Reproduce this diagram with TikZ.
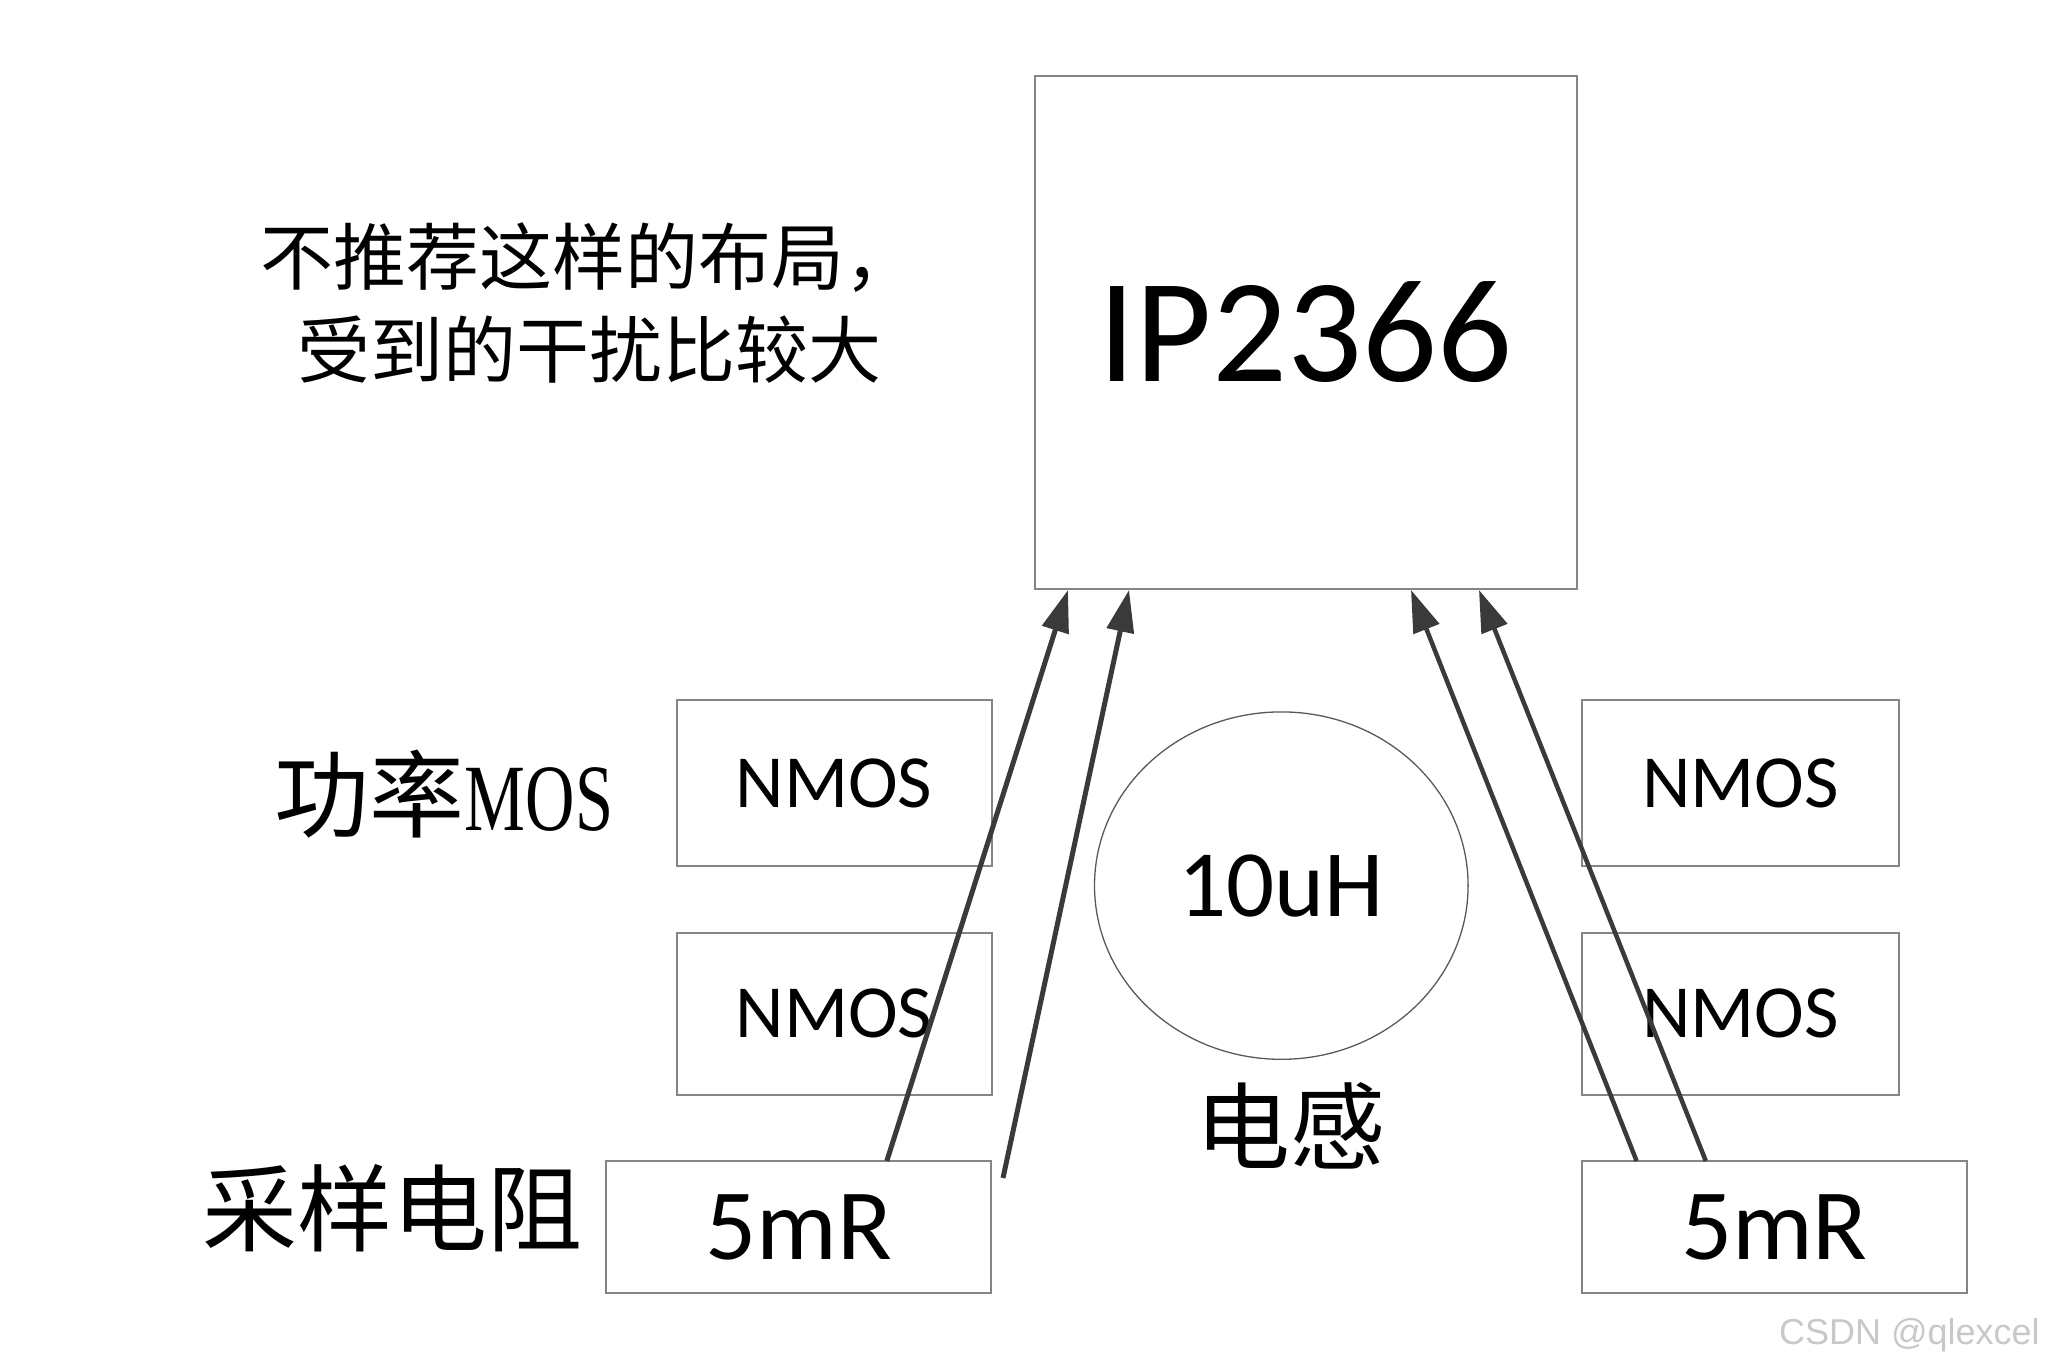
\documentclass[tikz,border=0pt]{standalone}
\usepackage{fontspec}
\setmainfont{Carlito}
\newfontfamily\cjk{Noto Sans CJK SC}
\newfontfamily\serifl{Liberation Serif}
\newfontfamily\wmfont{Liberation Sans}
\usetikzlibrary{arrows.meta,shapes.geometric}
\definecolor{boxgray}{HTML}{858585}
\definecolor{arrgray}{HTML}{3A3A3A}
\definecolor{wmgray}{HTML}{C8C8C8}
\begin{document}
\begin{tikzpicture}[x=1pt,y=-1pt,
  blockbox/.style={draw=boxgray,line width=2pt,inner sep=0pt,fill=white},
  arr/.style={draw=arrgray,line width=5pt,-{Triangle[length=42pt,width=27pt]}},
  cjklabel/.style={inner sep=0pt,font=\cjk\fontsize{95}{114}\selectfont}
]
\useasboundingbox (0,0) rectangle (2048,1369);
% chip
\node[blockbox,minimum width=542pt,minimum height=513pt,font=\fontsize{148}{170}\selectfont] (ic) at (1305.5,332.5) {IP2366};
% left column
\node[blockbox,minimum width=315pt,minimum height=166pt,font=\fontsize{75}{90}\selectfont] (nl1) at (834,783) {NMOS};
\node[blockbox,minimum width=315pt,minimum height=162pt,font=\fontsize{75}{90}\selectfont] (nl2) at (834,1013.5) {NMOS};
\node[blockbox,minimum width=385pt,minimum height=132pt,font=\fontsize{101}{120}\selectfont] (rl) at (798.7,1227) {5mR};
% right column
\node[blockbox,minimum width=317pt,minimum height=166pt,font=\fontsize{75}{90}\selectfont] (nr1) at (1740.4,783) {NMOS};
\node[blockbox,minimum width=317pt,minimum height=162pt,font=\fontsize{75}{90}\selectfont] (nr2) at (1740.4,1013.5) {NMOS};
\node[blockbox,minimum width=385pt,minimum height=132pt,font=\fontsize{101}{120}\selectfont] (rr) at (1774.4,1227) {5mR};
% inductor
\node[ellipse,draw=black!65,line width=1.3pt,minimum width=373.6pt,minimum height=347.4pt,inner sep=0pt,font=\fontsize{95}{110}\selectfont] (ind) at (1281.3,885.6) {10uH};
\node[cjklabel] (indlbl) at (1290,1126) {电感};
% labels
\node[inner sep=0pt,align=center,font=\cjk\fontsize{73}{93}\selectfont] (note) at (589,303) {不推荐这样的布局，\\受到的干扰比较大};
\node[cjklabel] (moslbl) at (444,794) {功率{\serifl\scalebox{0.72}[1]{MOS}}};
\node[cjklabel] (rlbl) at (392,1208) {采样电阻};
\node[anchor=east,inner sep=0pt,text=wmgray,font=\wmfont\fontsize{36}{40}\selectfont] (wm) at (2040,1335) {CSDN @qlexcel};
% connector ends
\coordinate (a1s) at (886.8,1161);
\coordinate (a1e) at (1068,590);
\coordinate (a2s) at (1003,1178);
\coordinate (a2e) at (1129,590);
\coordinate (a3s) at (1636.6,1161);
\coordinate (a3e) at (1411,590);
\coordinate (a4s) at (1705.8,1161);
\coordinate (a4e) at (1479,590);
\draw[arr] (a1s) -- (a1e);
\draw[arr] (a2s) -- (a2e);
\draw[arr,line width=4.5pt] (a3s) -- (a3e);
\draw[arr,line width=4.5pt] (a4s) -- (a4e);
\end{tikzpicture}
\end{document}
